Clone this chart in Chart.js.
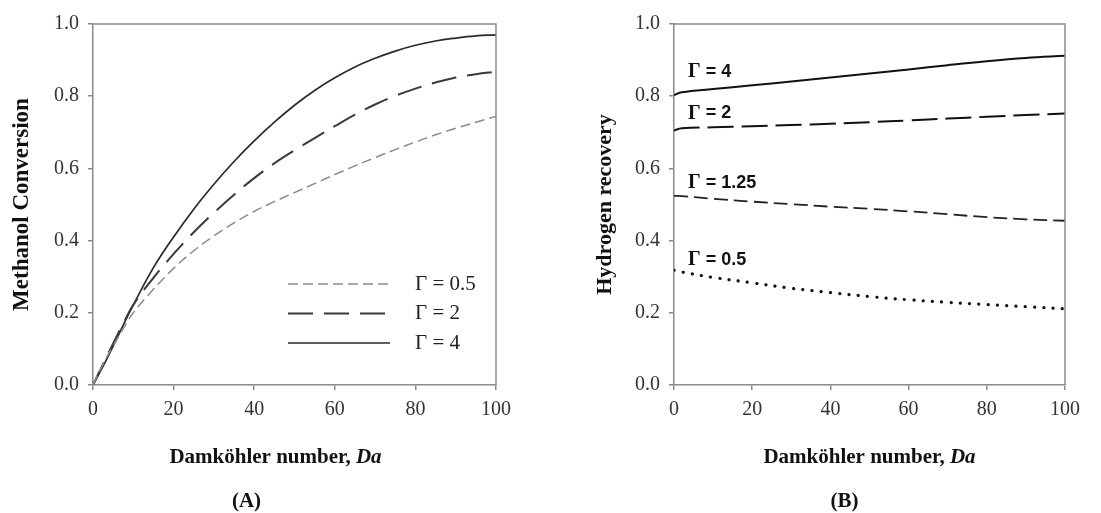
<!DOCTYPE html>
<html>
<head>
<meta charset="utf-8">
<script src="https://cdn.jsdelivr.net/npm/chart.js@4.4.1/dist/chart.umd.min.js"></script>
<style>
  html, body { margin: 0; padding: 0; background: #fff; }
  #wrap { position: relative; width: 1101px; height: 513px; }
  .panel { position: absolute; top: 0; }
  #panelA { left: 0; }
  #panelB { left: 550px; }
</style>
</head>
<body>
<div id="wrap">
  <div class="panel" id="panelA"><canvas id="chartA" width="550" height="513"></canvas></div>
  <div class="panel" id="panelB"><canvas id="chartB" width="551" height="513"></canvas></div>
</div>
<script>
// (A) methanol conversion vs Damkohler number
const daA = [0, 2.5, 5, 7.5, 10, 15, 20, 25, 30, 35, 40, 45, 50, 55, 60, 65, 70, 75, 80, 85, 90, 95, 100];
const convG05 = [0, 0.058, 0.108, 0.156, 0.2, 0.265, 0.323, 0.372, 0.413, 0.449, 0.481, 0.508, 0.533, 0.558, 0.583, 0.607, 0.63, 0.652, 0.673, 0.693, 0.711, 0.728, 0.744];
const convG2 = [0, 0.058, 0.115, 0.17, 0.222, 0.297, 0.363, 0.423, 0.477, 0.527, 0.573, 0.614, 0.65, 0.684, 0.717, 0.749, 0.777, 0.801, 0.821, 0.838, 0.852, 0.861, 0.868];
const convG4 = [0, 0.052, 0.108, 0.166, 0.222, 0.325, 0.41, 0.487, 0.556, 0.619, 0.676, 0.728, 0.775, 0.816, 0.851, 0.881, 0.905, 0.925, 0.941, 0.953, 0.961, 0.967, 0.970];
const labelsA = ['\u0393 = 0.5', '\u0393 = 2', '\u0393 = 4'];

// (B) hydrogen recovery vs Damkohler number
const daB = [0, 2, 10, 20, 30, 40, 50, 60, 70, 80, 90, 100];
const recG4 = [0.803, 0.811, 0.82, 0.83, 0.841, 0.852, 0.863, 0.874, 0.886, 0.897, 0.906, 0.912];
const recG2 = [0.705, 0.711, 0.714, 0.717, 0.72, 0.724, 0.728, 0.733, 0.738, 0.743, 0.748, 0.752];
const recG125 = [0.524, 0.523, 0.516, 0.508, 0.501, 0.494, 0.488, 0.481, 0.473, 0.465, 0.459, 0.455];
const recG05 = [0.318, 0.313, 0.298, 0.283, 0.268, 0.256, 0.245, 0.236, 0.229, 0.223, 0.217, 0.211];
const labelsB = ['4', '2', '1.25', '0.5'];

const serif = '"Liberation Serif", "Times New Roman", serif';
const sans = '"Liberation Sans", Arial, sans-serif';

function pts(xs, ys) {
  return ys.map((y, i) => ({ x: xs[i], y: y }));
}

// grey frame on top and right of the plot area
const frameBox = {
  id: 'frameBox',
  afterDraw(chart) {
    const { ctx, chartArea: a } = chart;
    ctx.save();
    ctx.strokeStyle = '#8a8a8a';
    ctx.lineWidth = 1.5;
    ctx.beginPath();
    ctx.moveTo(a.left, a.top);
    ctx.lineTo(a.right, a.top);
    ctx.lineTo(a.right, a.bottom);
    ctx.stroke();
    ctx.restore();
  }
};

// x axis title with italic "Da" and the panel letter
const bottomText = {
  id: 'bottomText',
  afterDraw(chart, args, o) {
    const { ctx, chartArea: a } = chart;
    const mid = (a.left + a.right) / 2;
    ctx.save();
    ctx.fillStyle = '#111';
    ctx.textBaseline = 'middle';
    ctx.textAlign = 'left';
    ctx.font = 'bold 21px ' + serif;
    const w1 = ctx.measureText('Damk\u00f6hler number, ').width;
    ctx.font = 'italic bold 21px ' + serif;
    const w2 = ctx.measureText('Da').width;
    let x = mid + o.titleShift - (w1 + w2) / 2;
    ctx.font = 'bold 21px ' + serif;
    ctx.fillText('Damk\u00f6hler number, ', x, o.titleY);
    ctx.font = 'italic bold 21px ' + serif;
    ctx.fillText('Da', x + w1, o.titleY);
    ctx.font = 'bold 21px ' + serif;
    ctx.textAlign = 'center';
    ctx.fillText(o.letter, mid + o.letterShift, o.letterY);
    ctx.restore();
  }
};

// legend drawn inside panel A
const innerLegend = {
  id: 'innerLegend',
  afterDraw(chart, args, o) {
    if (!o.show) return;
    const { ctx, chartArea: a } = chart;
    ctx.save();
    chart.data.datasets.forEach((ds, i) => {
      const y = a.top + o.top + i * o.gap;
      ctx.strokeStyle = ds.borderColor;
      ctx.lineWidth = ds.borderWidth;
      ctx.setLineDash(ds.borderDash || []);
      ctx.beginPath();
      ctx.moveTo(a.left + o.lineStart, y);
      ctx.lineTo(a.left + o.lineEnd, y);
      ctx.stroke();
      ctx.setLineDash([]);
      ctx.fillStyle = '#222';
      ctx.font = '21px ' + serif;
      ctx.textBaseline = 'middle';
      ctx.fillText(ds.label, a.left + o.textStart, y);
    });
    ctx.restore();
  }
};

// "Γ = n" labels above each curve of panel B
const curveLabels = {
  id: 'curveLabels',
  afterDraw(chart, args, o) {
    if (!o.show) return;
    const { ctx, chartArea: a } = chart;
    ctx.save();
    ctx.fillStyle = '#111';
    ctx.textBaseline = 'middle';
    chart.data.datasets.forEach((ds, i) => {
      const first = chart.getDatasetMeta(i).data[0];
      const y = first.y + o.dy[i];
      const x = a.left + o.dx;
      ctx.font = 'bold 20px ' + serif;
      ctx.fillText('\u0393', x, y);
      const gw = ctx.measureText('\u0393').width;
      ctx.font = 'bold 18px ' + sans;
      ctx.fillText(' = ' + labelsB[i], x + gw, y);
    });
    ctx.restore();
  }
};

function axes(yTitle, yWidth, yTitlePad, yTitleSize) {
  return {
    x: {
      type: 'linear', min: 0, max: 100,
      afterFit(s) { s.height = 128; },
      grid: { drawOnChartArea: false, drawTicks: true, tickLength: 5, color: '#8a8a8a', lineWidth: 1.5 },
      border: { display: true, color: '#8a8a8a', width: 1.5 },
      ticks: { stepSize: 20, padding: 8, color: '#333', font: { family: serif, size: 20 }, maxRotation: 0 }
    },
    y: {
      min: 0, max: 1,
      afterFit(s) { s.width = yWidth; },
      grid: { drawOnChartArea: false, drawTicks: true, tickLength: 5, color: '#8a8a8a', lineWidth: 1.5 },
      border: { display: true, color: '#8a8a8a', width: 1.5 },
      ticks: { stepSize: 0.2, padding: 9, color: '#333', font: { family: serif, size: 20 },
        callback: v => v.toFixed(1) },
      title: { display: true, text: yTitle, color: '#111', padding: { top: yTitlePad, bottom: 0 },
        font: { family: serif, size: yTitleSize, weight: 'bold' } }
    }
  };
}

new Chart(document.getElementById('chartA'), {
  type: 'line',
  data: {
    datasets: [
      { label: labelsA[0], data: pts(daA, convG05), borderColor: '#8c8c8c', borderWidth: 1.5, borderDash: [10, 5] },
      { label: labelsA[1], data: pts(daA, convG2), borderColor: '#3a3a3a', borderWidth: 2, borderDash: [25, 11] },
      { label: labelsA[2], data: pts(daA, convG4), borderColor: '#2a2a2a', borderWidth: 1.7 }
    ]
  },
  options: {
    responsive: false,
    animation: false,
    elements: { point: { radius: 0 }, line: { tension: 0.4, fill: false } },
    layout: { padding: { top: 24, right: 54, bottom: 0, left: 0 } },
    scales: axes('Methanol Conversion', 93, 8, 23),
    plugins: {
      legend: { display: false },
      tooltip: { enabled: false },
      innerLegend: { show: true, top: 260, gap: 29.5, lineStart: 195, lineEnd: 297, textStart: 322 },
      curveLabels: { show: false },
      bottomText: { titleShift: -19, titleY: 458, letter: '(A)', letterShift: -48, letterY: 502 }
    }
  },
  plugins: [frameBox, innerLegend, curveLabels, bottomText]
});

new Chart(document.getElementById('chartB'), {
  type: 'line',
  data: {
    datasets: [
      { label: '\u0393 = 4', data: pts(daB, recG4), borderColor: '#111', borderWidth: 2 },
      { label: '\u0393 = 2', data: pts(daB, recG2), borderColor: '#111', borderWidth: 2, borderDash: [26, 8] },
      { label: '\u0393 = 1.25', data: pts(daB, recG125), borderColor: '#222', borderWidth: 1.8, borderDash: [14, 6] },
      { label: '\u0393 = 0.5', data: pts(daB, recG05), borderColor: '#111', borderWidth: 3.2, borderDash: [0.1, 9.2], borderCapStyle: 'round' }
    ]
  },
  options: {
    responsive: false,
    animation: false,
    elements: { point: { radius: 0 }, line: { tension: 0.4, fill: false } },
    layout: { padding: { top: 24, right: 36, bottom: 0, left: 0 } },
    scales: axes('Hydrogen recovery', 124, 42, 22),
    plugins: {
      legend: { display: false },
      tooltip: { enabled: false },
      innerLegend: { show: false },
      curveLabels: { show: true, dx: 14, dy: [-23, -17, -13, -10] },
      bottomText: { titleShift: 0, titleY: 458, letter: '(B)', letterShift: -25, letterY: 502 }
    }
  },
  plugins: [frameBox, innerLegend, curveLabels, bottomText]
});
</script>
</body>
</html>
